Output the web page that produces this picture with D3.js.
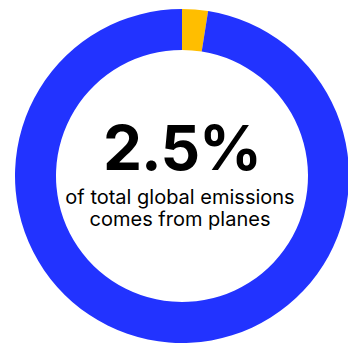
<!DOCTYPE html>
<html>
<head>
<meta charset="utf-8">
<script src="https://cdn.jsdelivr.net/npm/d3@7"></script>
<style>
  html, body { margin: 0; padding: 0; background: #fff; overflow: hidden; }
  svg { display: block; }
</style>
</head>
<body>
<div id="chart"></div>
<script>
// share of global emissions
var categories = ["Planes", "Everything else"];
var values = [2.5, 97.5];
var colors = ["#ffbe00", "#2233ff"];
var headline = "2.5%";
var caption = ["of total global emissions", "comes from planes"];

var width = 348, height = 346;
var cx = 182, cy = 176;
var outerR = 167, innerR = 126;

var svg = d3.select("#chart")
  .append("svg")
    .attr("width", width)
    .attr("height", height);

var g = svg.append("g")
  .attr("transform", "translate(" + cx + "," + cy + ")");

var pie = d3.pie()
  .sort(null)
  .value(function(d) { return d; });

var arc = d3.arc()
  .innerRadius(innerR)
  .outerRadius(outerR);

var color = d3.scaleOrdinal()
  .domain(categories)
  .range(colors);

g.selectAll("path")
  .data(pie(values))
  .enter()
  .append("path")
    .attr("d", arc)
    .attr("fill", function(d, i) { return color(categories[i]); });

// centre label
g.append("text")
  .attr("text-anchor", "middle")
  .attr("y", -6)
  .attr("font-family", "Inter, 'Noto Sans', sans-serif")
  .attr("font-weight", 700)
  .attr("font-size", 62)
  .attr("letter-spacing", -1)
  .attr("fill", "#000")
  .text(headline);

g.selectAll(".cap")
  .data(caption)
  .enter()
  .append("text")
    .attr("class", "cap")
    .attr("text-anchor", "middle")
    .attr("x", -2)
    .attr("y", function(d, i) { return 28 + i * 22; })
    .attr("font-family", "Inter, 'Noto Sans', sans-serif")
    .attr("font-size", 20)
    .attr("fill", "#000")
    .text(function(d) { return d; });
</script>
</body>
</html>
